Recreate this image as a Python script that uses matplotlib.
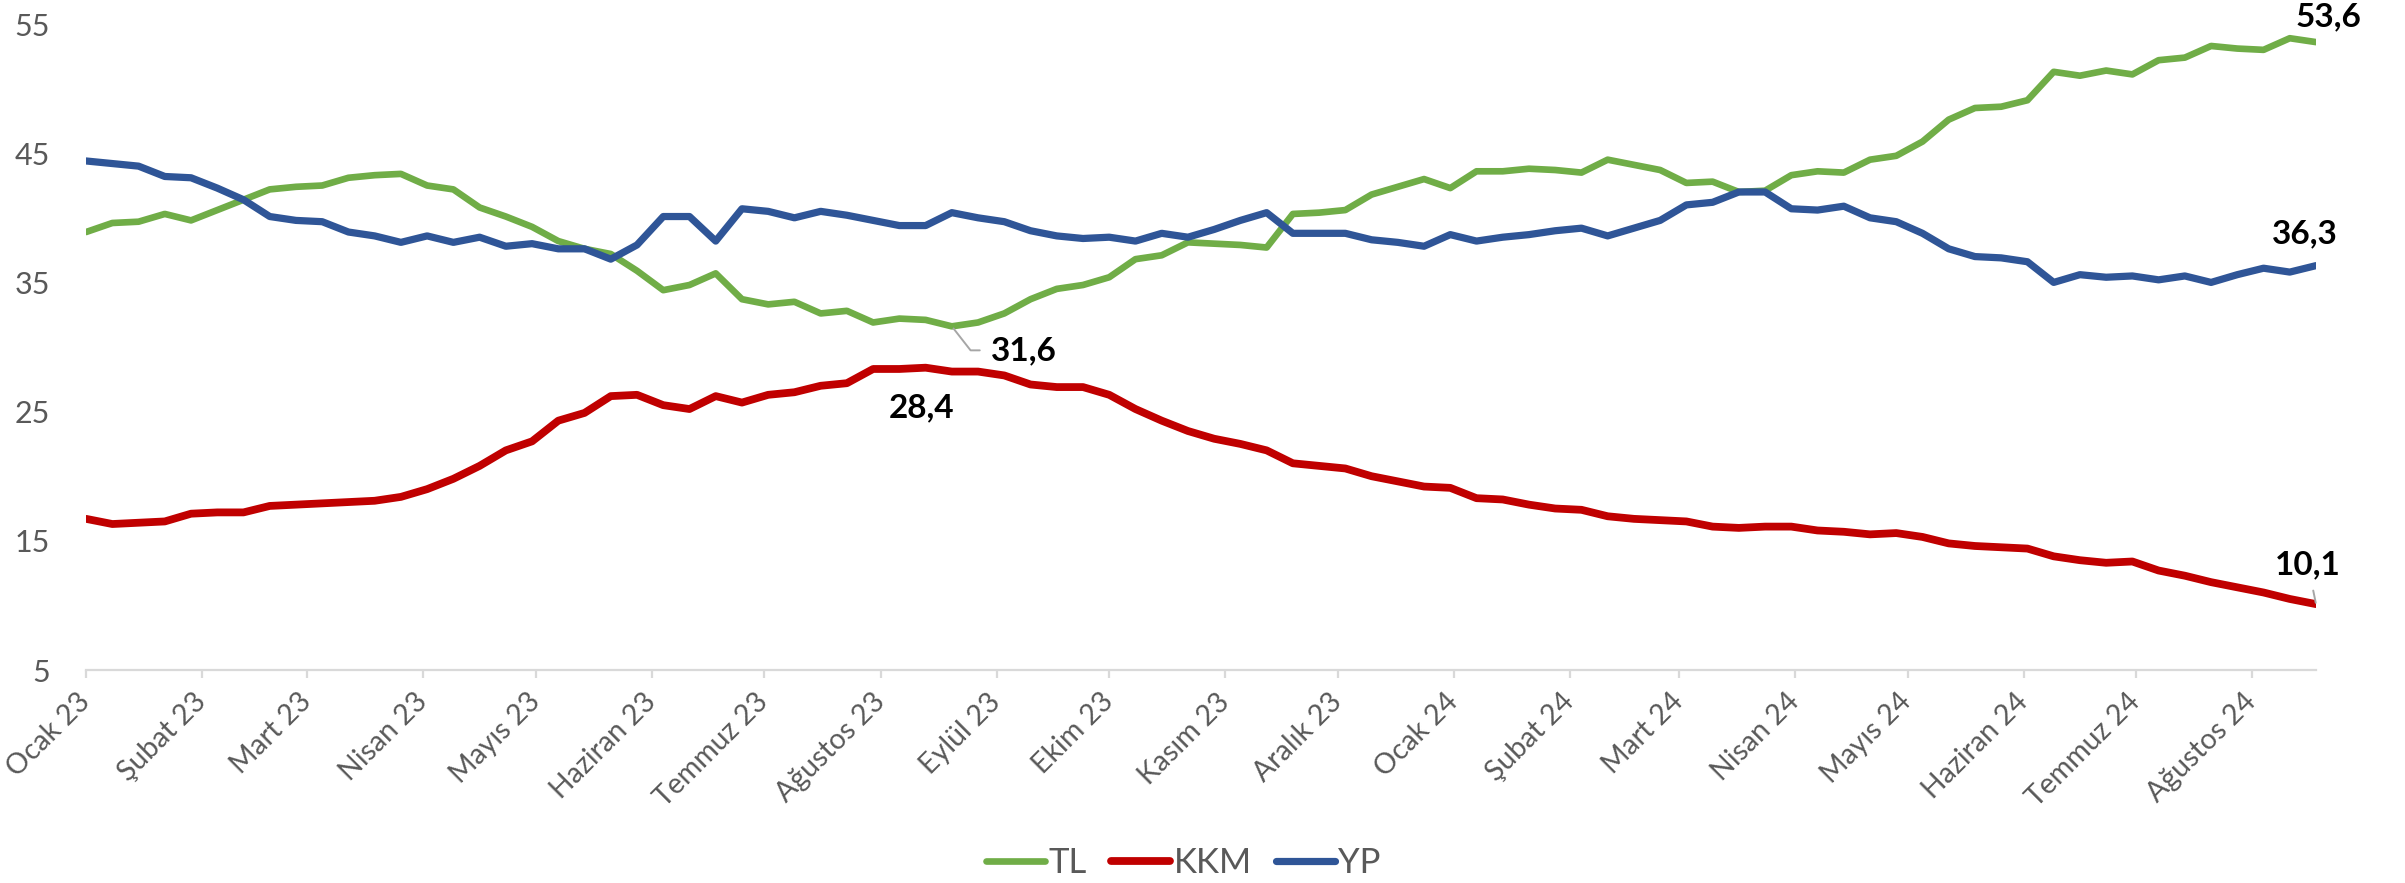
import pandas as pd
import numpy as np
import matplotlib
matplotlib.use("Agg")
import matplotlib.pyplot as plt

plt.rcParams['font.family'] = ['Lato', 'DejaVu Sans']

# weekly shares (%), Jan 2023 - Aug 2024
dates = pd.date_range('2023-01-06', periods=86, freq='7D')

tl = [38.9, 39.6, 39.7, 40.3, 39.8, 40.6, 41.4, 42.2, 42.4, 42.5,
      43.1, 43.3, 43.4, 42.5, 42.2, 40.8, 40.1, 39.3, 38.2, 37.6,
      37.2, 35.9, 34.4, 34.8, 35.7, 33.7, 33.3, 33.5, 32.6, 32.8,
      31.9, 32.2, 32.1, 31.6, 31.9, 32.6, 33.7, 34.5, 34.8, 35.4,
      36.8, 37.1, 38.1, 38.0, 37.9, 37.7, 40.3, 40.4, 40.6, 41.8,
      42.4, 43.0, 42.3, 43.6, 43.6, 43.8, 43.7, 43.5, 44.5, 44.1,
      43.7, 42.7, 42.8, 42.0, 42.1, 43.3, 43.6, 43.5, 44.5, 44.8,
      45.9, 47.6, 48.5, 48.6, 49.1, 51.3, 51.0, 51.4, 51.1, 52.2,
      52.4, 53.3, 53.1, 53.0, 53.9, 53.6]

kkm = [16.7, 16.3, 16.4, 16.5, 17.1, 17.2, 17.2, 17.7, 17.8, 17.9,
       18.0, 18.1, 18.4, 19.0, 19.8, 20.8, 22.0, 22.7, 24.3, 24.9,
       26.2, 26.3, 25.5, 25.2, 26.2, 25.7, 26.3, 26.5, 27.0, 27.2,
       28.3, 28.3, 28.4, 28.1, 28.1, 27.8, 27.1, 26.9, 26.9, 26.3,
       25.2, 24.3, 23.5, 22.9, 22.5, 22.0, 21.0, 20.8, 20.6, 20.0,
       19.6, 19.2, 19.1, 18.3, 18.2, 17.8, 17.5, 17.4, 16.9, 16.7,
       16.6, 16.5, 16.1, 16.0, 16.1, 16.1, 15.8, 15.7, 15.5, 15.6,
       15.3, 14.8, 14.6, 14.5, 14.4, 13.8, 13.5, 13.3, 13.4, 12.7,
       12.3, 11.8, 11.4, 11.0, 10.5, 10.1]

yp = [44.4, 44.2, 44.0, 43.2, 43.1, 42.3, 41.4, 40.1, 39.8, 39.7,
      38.9, 38.6, 38.1, 38.6, 38.1, 38.5, 37.8, 38.0, 37.6, 37.6,
      36.8, 37.9, 40.1, 40.1, 38.2, 40.7, 40.5, 40.0, 40.5, 40.2,
      39.8, 39.4, 39.4, 40.4, 40.0, 39.7, 39.0, 38.6, 38.4, 38.5,
      38.2, 38.8, 38.5, 39.1, 39.8, 40.4, 38.8, 38.8, 38.8, 38.3,
      38.1, 37.8, 38.7, 38.2, 38.5, 38.7, 39.0, 39.2, 38.6, 39.2,
      39.8, 41.0, 41.2, 42.0, 42.0, 40.7, 40.6, 40.9, 40.0, 39.7,
      38.8, 37.6, 37.0, 36.9, 36.6, 35.0, 35.6, 35.4, 35.5, 35.2,
      35.5, 35.0, 35.6, 36.1, 35.8, 36.3]

tick_labels = ['Ocak 23', 'Şubat 23', 'Mart 23', 'Nisan 23', 'Mayıs 23',
               'Haziran 23', 'Temmuz 23', 'Ağustos 23', 'Eylül 23', 'Ekim 23',
               'Kasım 23', 'Aralık 23', 'Ocak 24', 'Şubat 24', 'Mart 24',
               'Nisan 24', 'Mayıs 24', 'Haziran 24', 'Temmuz 24', 'Ağustos 24']
tick_dates = [dates[0] + pd.DateOffset(months=k) for k in range(len(tick_labels))]

fig = plt.figure(figsize=(24.05, 8.83), dpi=100)
ax = fig.add_axes([0.0358, 0.2412, 0.9272, 0.7316])

l1, = ax.plot(dates, tl, color='#70AD47', lw=4.8, label='TL',
              solid_joinstyle='round', solid_capstyle='round')
l2, = ax.plot(dates, kkm, color='#C00000', lw=5.6, label='KKM',
              solid_joinstyle='round', solid_capstyle='round')
l3, = ax.plot(dates, yp, color='#2F5597', lw=5.2, label='YP',
              solid_joinstyle='round', solid_capstyle='round')

ax.set_xlim(dates[0], dates[-1])
ax.set_ylim(5, 55)
ax.set_yticks(np.arange(5, 56, 10))
ax.set_xticks(tick_dates)
ax.set_xticklabels(tick_labels, rotation=45, ha='right', va='center',
                   rotation_mode='anchor')

for s in ['top', 'right', 'left']:
    ax.spines[s].set_visible(False)
ax.spines['bottom'].set_color('#d9d9d9')
ax.spines['bottom'].set_linewidth(1.6)
ax.tick_params(axis='x', colors='#d9d9d9', length=6, width=1.6, pad=14,
               labelsize=20.5, labelcolor='#595959')
ax.tick_params(axis='y', length=0, pad=26, labelsize=22, labelcolor='#595959')

lab = dict(fontsize=24, fontweight='bold', color='black', ha='center', va='center')
gray = '#a6a6a6'
ax.annotate('53,6', (dates[85], tl[85]), xytext=(12, 25), textcoords='offset pixels', **lab)
ax.annotate('36,3', (dates[85], yp[85]), xytext=(-11, 32), textcoords='offset pixels', **lab)
ax.annotate('10,1', (dates[85], kkm[85]), xytext=(-8, 39), textcoords='offset pixels',
            arrowprops=dict(arrowstyle='-', color=gray, lw=1.4, shrinkA=6, shrinkB=1), **lab)
ax.annotate('31,6', (dates[33], tl[33]), xytext=(72, -24), textcoords='offset pixels',
            arrowprops=dict(arrowstyle='-', color=gray, lw=1.4, shrinkA=6, shrinkB=2,
                            relpos=(0, 0.5),
                            connectionstyle='angle,angleA=0,angleB=-52,rad=0'), **lab)
ax.annotate('28,4', (dates[32], kkm[32]), xytext=(-4, -40), textcoords='offset pixels', **lab)

fig.legend(handles=[l1, l2, l3], loc='center', bbox_to_anchor=(0.492, 0.023), ncol=3,
           frameon=False, fontsize=25, handlelength=1.7, handletextpad=0.1,
           columnspacing=0.7, labelcolor='#595959')

fig.savefig('out.png', dpi=100)
